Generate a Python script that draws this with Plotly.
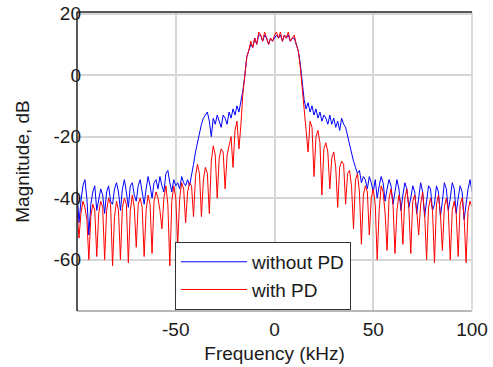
import plotly.graph_objects as go

freq_khz = list(range(-100, 101))

without_pd = [
    # -100 .. -50
    -37, -48, -41, -36, -34, -40, -52, -42, -38, -36,
    -44, -40, -37, -39, -45, -38, -36, -41, -42, -37,
    -35, -38, -44, -37, -34, -38, -43, -36, -35, -39,
    -41, -36, -34, -38, -42, -37, -33, -36, -40, -35,
    -34, -37, -33, -36, -38, -32, -31, -35, -38, -34,
    -36,
    # -49 .. -15
    -35, -37, -33, -35, -36, -34, -36, -33, -29, -25,
    -22, -18, -16, -14, -13, -12, -15, -20, -14, -16,
    -13, -15, -17, -13, -14, -16, -12, -14, -11, -13,
    -10, -12, -9, -5, 0,
    # -14 .. 13
    6, 8, 10, 9, 12, 10, 13, 13, 11, 13,
    12, 10, 12, 11, 12, 13, 12, 13, 11, 13,
    12, 13, 11, 12, 12, 10, 8, 4,
    # 14 .. 50
    -3, -8, -11, -9, -12, -10, -13, -11, -14, -12,
    -15, -13, -14, -16, -13, -16, -14, -17, -15, -18,
    -14, -16, -17, -20, -22, -25, -28, -30, -32, -31,
    -35, -33, -34, -37, -33, -35, -38,
    # 51 .. 100
    -34, -40, -36, -33, -35, -41, -37, -34, -36, -42,
    -38, -34, -37, -44, -39, -35, -37, -43, -40, -36,
    -38, -45, -40, -35, -38, -46, -41, -36, -37, -44,
    -42, -36, -38, -46, -41, -35, -37, -44, -40, -35,
    -37, -45, -40, -36, -38, -47, -42, -37, -34, -38,
]

with_pd = [
    # -100 .. -50
    -44, -53, -45, -41, -43, -47, -60, -46, -42, -44,
    -59, -45, -41, -43, -60, -44, -40, -42, -62, -46,
    -41, -44, -60, -43, -40, -42, -61, -44, -39, -43,
    -56, -42, -40, -43, -59, -44, -39, -42, -58, -41,
    -38, -40, -44, -50, -40, -36, -42, -62, -41, -36,
    -40,
    # -49 .. -15
    -55, -40, -35, -37, -48, -38, -35, -36, -46, -33,
    -29, -32, -46, -34, -30, -32, -45, -28, -23, -26,
    -40, -27, -24, -25, -37, -26, -23, -20, -30, -18,
    -15, -24, -16, -6, 0,
    # -14 .. 13
    6, 8, 11, 9, 12, 10, 14, 13, 11, 14,
    12, 10, 12, 11, 13, 14, 12, 14, 11, 13,
    12, 14, 11, 12, 13, 10, 8, 3,
    # 14 .. 50
    -4, -12, -20, -25, -15, -17, -33, -20, -18, -22,
    -39, -24, -22, -25, -37, -27, -25, -30, -43, -30,
    -28, -29, -42, -32, -31, -36, -50, -34, -32, -38,
    -55, -39, -36, -38, -52, -40, -37,
    # 51 .. 100
    -42, -60, -44, -36, -38, -45, -57, -40, -37, -42,
    -58, -44, -39, -42, -55, -40, -37, -43, -58, -41,
    -39, -44, -52, -42, -38, -45, -60, -43, -40, -44,
    -61, -42, -39, -45, -57, -43, -40, -44, -60, -44,
    -41, -45, -59, -42, -40, -46, -61, -44, -41, -43,
]

x_ticks = [-50, 0, 50, 100]
y_ticks = [20, 0, -20, -40, -60]

font_family = "Arial, Liberation Sans, sans-serif"
text_color = "#1a1a1a"

fig = go.Figure()
fig.add_trace(go.Scatter(x=freq_khz, y=without_pd, mode="lines", name="without PD",
                         line=dict(color="#0000ff", width=1)))
fig.add_trace(go.Scatter(x=freq_khz, y=with_pd, mode="lines", name="with PD",
                         line=dict(color="#ff0000", width=1)))

fig.update_layout(
    width=493, height=367,
    margin=dict(l=77, r=21, t=12, b=56),
    paper_bgcolor="white", plot_bgcolor="white",
    font=dict(family=font_family, size=19, color=text_color),
    showlegend=True,
    hovermode=False,
    legend=dict(x=0.248, y=0.231, xanchor="left", yanchor="top",
                bgcolor="white", bordercolor="#333333", borderwidth=1,
                font=dict(size=19, color=text_color), itemwidth=66,
                tracegroupgap=0),
    xaxis=dict(range=[-100, 100], tickvals=x_ticks, ticktext=[str(v) for v in x_ticks],
               showgrid=True, gridcolor="#d6d6d6", gridwidth=1.5, zeroline=False,
               showline=False, ticks="", tickfont=dict(size=19), automargin=False,
               ticklabelstandoff=5, ticklabeloverflow="allow",
               title=dict(text="Frequency (kHz)", font=dict(size=19), standoff=7)),
    yaxis=dict(range=[-76.7, 20.5], tickvals=y_ticks, ticktext=[str(v) for v in y_ticks],
               showgrid=True, gridcolor="#d6d6d6", gridwidth=1.5, zeroline=False,
               showline=False, ticks="", tickfont=dict(size=19), automargin=False,
               ticklabelstandoff=-5, ticklabeloverflow="allow",
               title=dict(text="Magnitude, dB", font=dict(size=19), standoff=18)),
    shapes=[
        dict(type="line", xref="paper", yref="paper", x0=0, x1=1, y0=0, y1=0,
             line=dict(color="#a0a0a0", width=1.5)),
        dict(type="line", xref="paper", yref="paper", x0=1, x1=1, y0=0, y1=1,
             line=dict(color="#d0d0d0", width=1.5)),
        dict(type="line", xref="paper", yref="paper", x0=0, x1=1, y0=1, y1=1,
             line=dict(color="#222222", width=1.5)),
        dict(type="line", xref="paper", yref="paper", x0=0, x1=0, y0=0, y1=1,
             line=dict(color="#222222", width=1.5)),
    ],
)

fig.write_html("out.html", config={"displayModeBar": False},
               post_script="document.body.style.margin='0';")
